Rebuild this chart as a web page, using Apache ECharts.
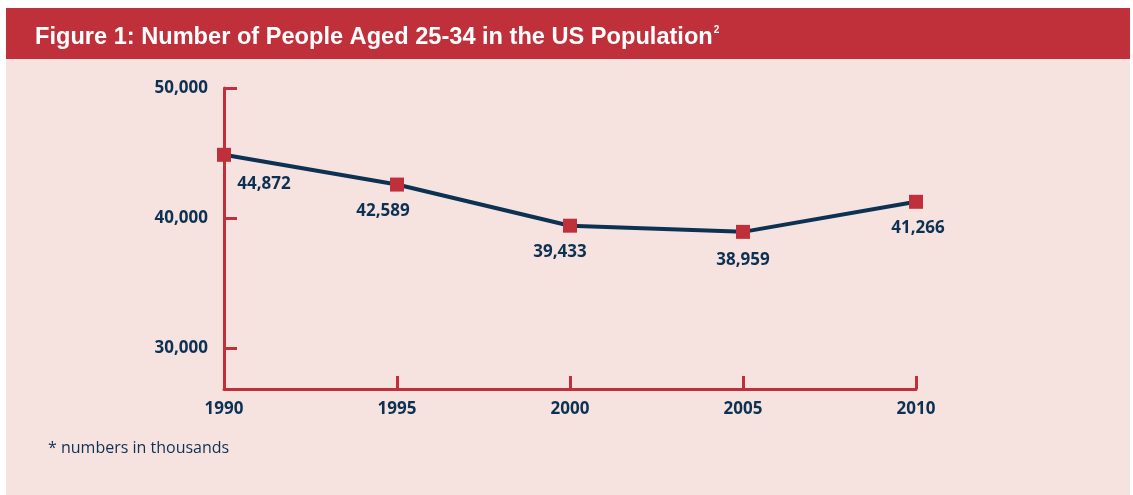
<!DOCTYPE html>
<html>
<head>
<meta charset="utf-8">
<script src="https://cdn.jsdelivr.net/npm/echarts@6/dist/echarts.min.js"></script>
<style>
  html, body { margin: 0; padding: 0; background: #ffffff; }
  #main { width: 1133px; height: 495px; }
</style>
</head>
<body>
<div id="main"></div>
<script>
// data
const years = ['1990', '1995', '2000', '2005', '2010']
const people = [44872, 42589, 39433, 38959, 41266]
const yTicks = [30000, 40000, 50000]
// where each value label sits relative to its marker
const labelOffsets = [[40, 4], [-14, 1], [-10, 1], [0, 3], [2, 1]]

const red = '#c0303a'
const navy = '#0d3152'

const chart = echarts.init(document.getElementById('main'))

const option = {
  backgroundColor: '#ffffff',
  animation: false,
  graphic: [
    { type: 'rect', shape: { x: 6, y: 8, width: 1124, height: 51 }, style: { fill: red }, z: -10 },
    { type: 'rect', shape: { x: 6, y: 59, width: 1124, height: 436 }, style: { fill: '#f6e3df' }, z: -10 },
    {
      type: 'text',
      left: 48,
      top: 440,
      style: {
        text: '* numbers in thousands',
        fill: navy,
        font: '16px "Open Sans", sans-serif'
      }
    }
  ],
  title: {
    text: '{t|Figure 1: Number of People Aged 25-34 in the US Population}{s|2}',
    left: 30,
    top: 20,
    textStyle: {
      rich: {
        t: { color: '#fff', fontSize: 23.6, fontWeight: 'bold', fontFamily: '"Liberation Sans", sans-serif' },
        s: { color: '#fff', fontSize: 10, fontWeight: 'bold', fontFamily: '"Liberation Sans", sans-serif', verticalAlign: 'top', padding: [0, 0, 10, 1] }
      }
    }
  },
  grid: { left: 224, right: 217, top: 88, bottom: 106 },
  xAxis: {
    type: 'category',
    data: years,
    boundaryGap: false,
    axisLine: { lineStyle: { color: red, width: 3 } },
    axisTick: { inside: true, length: 13, lineStyle: { color: red, width: 3 } },
    axisLabel: { color: navy, fontSize: 17, fontWeight: 'bold', fontFamily: '"Open Sans", sans-serif', margin: 12 },
    splitLine: { show: false }
  },
  yAxis: {
    type: 'value',
    min: 26900,
    max: 50000,
    axisLine: { show: true, lineStyle: { color: red, width: 3 } },
    axisTick: { show: true, inside: true, length: 13, customValues: yTicks, lineStyle: { color: red, width: 3 } },
    axisLabel: {
      customValues: yTicks,
      color: navy,
      fontSize: 17,
      fontWeight: 'bold',
      fontFamily: '"Open Sans", sans-serif',
      margin: 16,
      formatter: v => v.toLocaleString('en-US')
    },
    splitLine: { show: false }
  },
  series: [
    {
      type: 'line',
      data: people.map((v, i) => ({
        value: v,
        label: { offset: labelOffsets[i] }
      })),
      symbol: 'rect',
      symbolSize: 14,
      itemStyle: { color: red },
      lineStyle: { color: navy, width: 4 },
      label: {
        show: true,
        position: 'bottom',
        distance: 10,
        color: navy,
        fontSize: 17,
        fontWeight: 'bold',
        fontFamily: '"Open Sans", sans-serif',
        formatter: p => p.value.toLocaleString('en-US')
      }
    }
  ]
}

chart.setOption(option)
</script>
</body>
</html>
